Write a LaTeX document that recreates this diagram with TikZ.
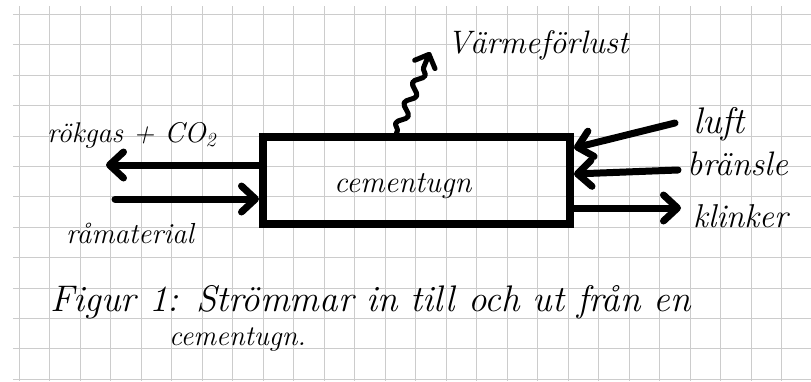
\documentclass[tikz,border=0pt]{standalone}
\usetikzlibrary{arrows.meta,decorations.pathmorphing}
\begin{document}
\begin{tikzpicture}[x=1pt,y=-1pt,
  gridline/.style={draw=black!20, line width=1pt},
  marker/.style={line width=7pt, line cap=round, line join=round},
  flow/.style={marker, -{Straight Barb[length=14pt,width=26pt,round]}},
  heat/.style={line width=5pt, line cap=round, line join=round,
    decorate, decoration={snake, amplitude=4.5pt, segment length=22pt, pre length=2pt, post length=10pt},
    -{Straight Barb[length=11pt,width=22pt,round]}},
  hand/.style={font=\fontsize{#1}{#1}\selectfont\itshape, inner sep=0pt, anchor=base west},
  hand/.default=32,
  kiln/.style={draw, line width=8pt, minimum width=307pt, minimum height=87pt, inner sep=0pt}
]
% squared paper
\useasboundingbox (0,0) rectangle (811,381);
\fill[white] (0,0) rectangle (811,381);
\foreach \k in {0,...,25} \draw[gridline] ({19.3+30.5*\k},6) -- ({19.3+30.5*\k},381);
\foreach \k in {0,...,12} \draw[gridline] (13,{14.5+30.4*\k}) -- (811,{14.5+30.4*\k});

% the kiln
\node[kiln] (box) at (416.5,180.5) {};
\node[hand=30.5] (kilnlabel) at (334,192) {cementugn};

% flows on the left
\coordinate (rgTip) at (106,165);
\coordinate (rmTail) at (115,199);
\draw[flow] (box.west |- rgTip) -- (rgTip);
\draw[flow] (rmTail) -- (box.west |- rmTail);
\node[hand=28.5] (rg) at (47,142) {rökgas + CO\textsubscript{2}};
\node[hand=29] (rm) at (66,243) {råmaterial};

% flows on the right
\coordinate (luTail) at (675,123);
\coordinate (brTail) at (678,170);
\coordinate (klTip) at (681,208);
\draw[flow] (luTail) -- ([yshift=-15pt]box.north east);
\draw[flow] (brTail) -- ([yshift=-41pt]box.north east);
\draw[flow] ([yshift=-75pt]box.north east) -- (klTip);
\node[hand=37] (lu) at (693,133) {luft};
\node[hand=34] (br) at (687,175) {bränsle};
\node[hand=33] (kl) at (693,227) {klinker};

% heat loss
\coordinate (heatTip) at (430,52);
\draw[heat] ([xshift=-20pt]box.north) -- (heatTip);
\node[hand=32.5] (vf) at (447,53) {Värmeförlust};

% caption
\node[hand=37] (cap1) at (50,311) {Figur 1: Strömmar in till och ut från en};
\node[hand=28.5] (cap2) at (169,345) {cementugn.};
\end{tikzpicture}
\end{document}
